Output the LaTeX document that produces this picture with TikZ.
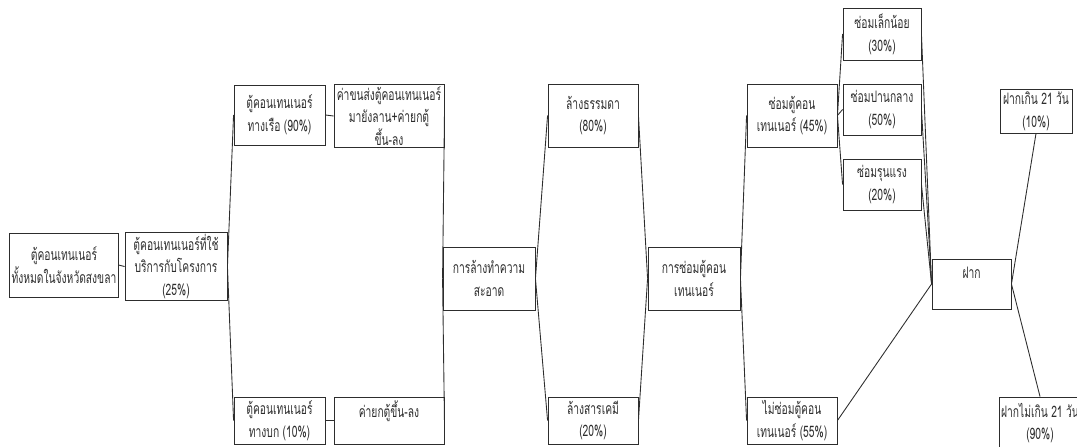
\documentclass[tikz,border=0pt]{standalone}
\usepackage{fontspec}
\newfontfamily\thaifont[Script=Thai,FakeStretch=0.65]{Loma}
\usetikzlibrary{positioning}
\definecolor{ink}{RGB}{45,45,45}
\tikzset{
  box/.style={draw=ink,line width=0.5pt,align=center,inner sep=1pt,
    font=\thaifont\fontsize{9}{13}\selectfont,text=ink},
  sz/.style 2 args={minimum width=#1*0.02cm,minimum height=#2*0.02cm},
  link/.style={draw=ink,line width=0.5pt},
}
\begin{document}
\begin{tikzpicture}[x=0.02cm,y=-0.02cm]
  \useasboundingbox (0,0) rectangle (1077,446);
  \clip (0,0) rectangle (1077,446);
  \node[box,sz={108}{64}] (all) at (64,265) {ตู้คอนเทนเนอร์\\ทั้งหมดในจังหวัดสงขลา};
  \node[box,sz={102}{67}] (used) at (176,266.5) {ตู้คอนเทนเนอร์ที่ใช้\\บริการกับโครงการ\\(25\%)};
  \node[box,sz={91}{60}] (sea) at (279.5,115) {ตู้คอนเทนเนอร์\\ทางเรือ (90\%)};
  \node[box,sz={110}{62}] (seacost) at (389,116) {ค่าขนส่งตู้คอนเทนเนอร์\\มายังลาน+ค่ายกตู้\\ขึ้น-ลง};
  \node[box,sz={91}{47}] (land) at (279.5,420.5) {ตู้คอนเทนเนอร์\\ทางบก (10\%)};
  \node[box,sz={110}{47}] (landcost) at (389,420.5) {ค่ายกตู้ขึ้น-ลง\\\mbox{}};
  \node[box,sz={92}{63}] (wash) at (489,278.5) {การล้างทำความ\\สะอาด};
  \node[box,sz={90}{63}] (plain) at (593,115.5) {ล้างธรรมดา\\(80\%)};
  \node[box,sz={90}{47}] (chem) at (593,420.5) {ล้างสารเคมี\\(20\%)};
  \node[box,sz={92}{63}] (repair) at (694,278.5) {การซ่อมตู้คอน\\เทนเนอร์};
  \node[box,sz={90}{63}] (fix) at (792,115.5) {ซ่อมตู้คอน\\เทนเนอร์ (45\%)};
  \node[box,sz={90}{47}] (nofix) at (792,420.5) {ไม่ซ่อมตู้คอน\\เทนเนอร์ (55\%)};
  \node[box,sz={78}{52}] (minor) at (882,34) {ซ่อมเล็กน้อย\\(30\%)};
  \node[box,sz={78}{51}] (medium) at (882,109.5) {ซ่อมปานกลาง\\(50\%)};
  \node[box,sz={78}{51}] (severe) at (882,184.5) {ซ่อมรุนแรง\\(20\%)};
  \node[box,sz={79}{50}] (deposit) at (971.5,284) {ฝาก\\\mbox{}};
  \node[box,sz={72}{44}] (over) at (1036,111) {ฝากเกิน 21 วัน\\(10\%)};
  \node[box,sz={78}{52}] (within) at (1040,423) {ฝากไม่เกิน 21 วัน\\(90\%)};
  % connectors
  \draw[link] (all.east) -- (used.west);
  \draw[link] (used.east) -- (sea.west);
  \draw[link] (used.east) -- (land.west);
  \draw[link] (sea.east) -- (seacost.west);
  \draw[link] (land.east) -- (landcost.west);
  \draw[link] (seacost.east) -- (wash.west);
  \draw[link] (landcost.east) -- (wash.west);
  \draw[link] (wash.east) -- (plain.west);
  \draw[link] (wash.east) -- (chem.west);
  \draw[link] (plain.east) -- (repair.west);
  \draw[link] (chem.east) -- (repair.west);
  \draw[link] (repair.east) -- (fix.west);
  \draw[link] (repair.east) -- (nofix.west);
  \draw[link] (fix.east) -- (minor.west);
  \draw[link] (fix.east) -- (medium.west);
  \draw[link] (fix.east) -- (severe.west);
  \draw[link] (minor.east) -- (deposit.west);
  \draw[link] (medium.east) -- (deposit.west);
  \draw[link] (severe.east) -- (deposit.west);
  \draw[link] (nofix.east) -- (deposit.west);
  \draw[link] (deposit.east) -- (over.south);
  \draw[link] (deposit.east) -- (within.north);
\end{tikzpicture}
\end{document}
